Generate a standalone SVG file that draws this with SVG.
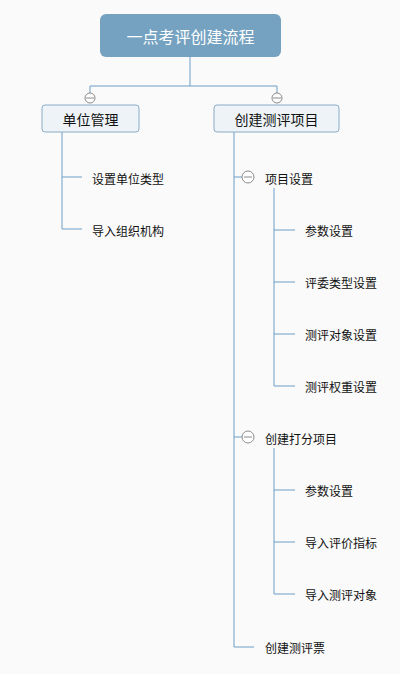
<svg xmlns="http://www.w3.org/2000/svg" width="400" height="674" viewBox="0 0 400 674">
<style>
.ln{fill:none;stroke:#6f9ec6;stroke-width:1}
.tg{fill:#fff;stroke:#8a8a8a;stroke-width:1}
.box{fill:#eef3f7;stroke:#8aabc6;stroke-width:1}
text{font-family:"Noto Sans CJK SC","Microsoft YaHei",sans-serif;fill:#111}
.leaf{font-size:12px;dominant-baseline:central}
.mid{font-size:14px;text-anchor:middle;dominant-baseline:central}
</style>
<rect width="400" height="674" fill="#fafafa"/>
<g id="connectors">
<path class="ln" d="M190 57V86M90 86H277M90 86V93M277 86V93"/>
<path class="ln" d="M62 132V229H82M62 177H82"/>
<path class="ln" d="M234 132V647H254M234 177H242M234 437H242"/>
<path class="ln" d="M274 188V386H295M274 230H295M274 282H295M274 334H295"/>
<path class="ln" d="M274 448V594H295M274 490H295M274 542H295"/>
</g>
<g id="root">
<rect x="100" y="14" width="181" height="43" rx="6" fill="#74a2c0"/>
<text x="190.5" y="36" text-anchor="middle" dominant-baseline="central" font-size="16" style="fill:#fff">一点考评创建流程</text>
</g>
<g id="toggle-left"><circle class="tg" cx="90" cy="98" r="5"/><path d="M86 98H94" stroke="#8a8a8a"/></g>
<g id="toggle-right"><circle class="tg" cx="277" cy="98" r="5"/><path d="M273 98H281" stroke="#8a8a8a"/></g>
<g id="n-danwei">
<rect class="box" x="42" y="105" width="97" height="27" rx="3"/>
<text class="mid" x="90.5" y="118.5">单位管理</text>
</g>
<g id="n-chuangjian">
<rect class="box" x="214" y="105" width="125" height="27" rx="3"/>
<text class="mid" x="276.5" y="118.5">创建测评项目</text>
</g>
<g id="n-leixing"><text class="leaf" x="92" y="178">设置单位类型</text></g>
<g id="n-zuzhi"><text class="leaf" x="92" y="230">导入组织机构</text></g>
<g id="n-xiangmu">
<circle class="tg" cx="248" cy="177" r="6"/><path d="M244 177H252" stroke="#8a8a8a"/>
<text class="leaf" x="265" y="178">项目设置</text>
</g>
<g id="n-canshu1"><text class="leaf" x="305" y="230">参数设置</text></g>
<g id="n-pingwei"><text class="leaf" x="305" y="282">评委类型设置</text></g>
<g id="n-duixiang"><text class="leaf" x="305" y="334">测评对象设置</text></g>
<g id="n-quanzhong"><text class="leaf" x="305" y="386">测评权重设置</text></g>
<g id="n-dafen">
<circle class="tg" cx="248" cy="437" r="6"/><path d="M244 437H252" stroke="#8a8a8a"/>
<text class="leaf" x="265" y="438">创建打分项目</text>
</g>
<g id="n-canshu2"><text class="leaf" x="305" y="490">参数设置</text></g>
<g id="n-zhibiao"><text class="leaf" x="305" y="542">导入评价指标</text></g>
<g id="n-daoru"><text class="leaf" x="305" y="594">导入测评对象</text></g>
<g id="n-piao"><text class="leaf" x="265" y="647">创建测评票</text></g>
</svg>
